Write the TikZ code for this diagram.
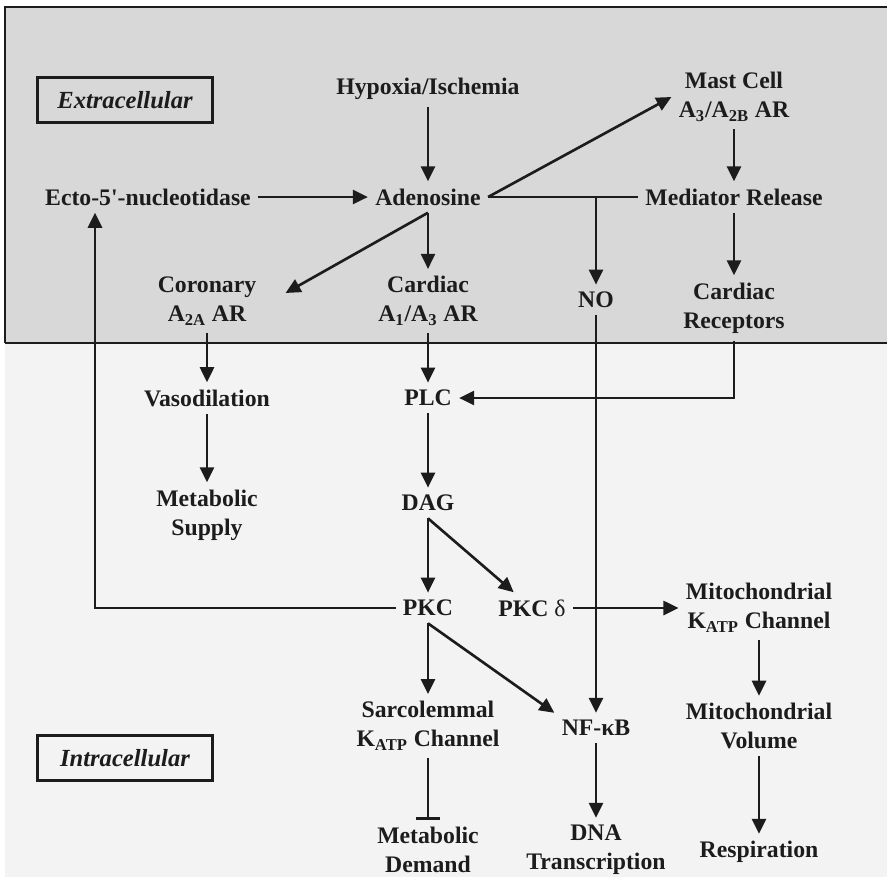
\documentclass[tikz,border=0pt]{standalone}
\usepackage{fontspec}
\setmainfont{Liberation Serif}
\usetikzlibrary{arrows.meta,calc}
\definecolor{BandGray}{HTML}{D8D8D8}
\definecolor{PaperGray}{HTML}{F3F3F3}
\definecolor{InkBlack}{HTML}{1C1C1C}
\newcommand{\lsub}[1]{\textsubscript{#1}}

\begin{document}
\begin{tikzpicture}[x=0.02cm,y=-0.02cm,
  lbl/.style={font=\bfseries\fontsize{13.5}{16.5}\selectfont,align=center,inner sep=4pt,text=InkBlack},
  tag/.style={draw=InkBlack,line width=1.3pt,font=\bfseries\itshape\fontsize{14}{16}\selectfont,minimum width=3.5cm,minimum height=0.9cm,text=InkBlack},
  arr/.style={-{Triangle[length=3mm,width=2.8mm]},line width=1.5pt,draw=InkBlack},
  link/.style={line width=1.5pt,draw=InkBlack},
  block/.style={-{Bar[width=5mm]},line width=1.5pt,draw=InkBlack}]
  \useasboundingbox (0,0) rectangle (887,877);
  % compartments
  \fill[PaperGray] (5,343) rectangle (887,877);
  \fill[BandGray] (5,7) rectangle (887,343);
  \draw[line width=1.2pt,InkBlack] (887,7) -- (5,7) -- (5,343);
  \draw[line width=1.6pt,InkBlack] (5,343) -- (887,343);
  \node[tag] (extra) at (125,100) {Extracellular};
  \node[tag] (intra) at (125,758) {Intracellular};
  % extracellular side
  \node[lbl] (hyp) at (428,89) {Hypoxia/Ischemia};
  \node[lbl] (mast) at (734,97) {Mast Cell\\A\lsub{3}/A\lsub{2B} AR};
  \node[lbl] (ecto) at (148,197) {Ecto-5\textquotesingle-nucleotidase};
  \node[lbl] (aden) at (428,197) {Adenosine};
  \node[lbl] (medi) at (734,197) {Mediator Release};
  \node[lbl] (coron) at (207,301) {Coronary\\A\lsub{2A} AR};
  \node[lbl] (cardar) at (428,301) {Cardiac\\A\lsub{1}/A\lsub{3} AR};
  \node[lbl] (no) at (596,300) {NO};
  \node[lbl] (cardrec) at (734,308) {Cardiac\\Receptors};
  % intracellular side
  \node[lbl] (vaso) at (207,398) {Vasodilation};
  \node[lbl] (metsup) at (207,515) {Metabolic\\Supply};
  \node[lbl] (plc) at (428,398) {PLC};
  \node[lbl] (dag) at (428,503) {DAG};
  \node[lbl] (pkc) at (428,608) {PKC};
  \node[lbl] (pkcd) at (532,608) {PKC {\mdseries δ}};
  \node[lbl] (mitok) at (759,608) {Mitochondrial\\K\lsub{ATP} Channel};
  \node[lbl] (sarc) at (428,726) {Sarcolemmal\\K\lsub{ATP} Channel};
  \node[lbl] (nfkb) at (596,728) {NF-κB};
  \node[lbl] (mitov) at (759,726) {Mitochondrial\\Volume};
  \node[lbl] (metdem) at (428,850) {Metabolic\\Demand};
  \node[lbl] (dna) at (596,850) {DNA\\Transcription};
  \node[lbl] (resp) at (759,852) {Respiration};
  % connectors
  \draw[arr] (hyp) -- (aden);
  \draw[arr] (ecto) -- (aden);
  \draw[arr] (aden.south) -- (cardar);
  \draw[arr] (aden.south) -- ($(coron.east)+(22,-8)$);
  \draw[arr] (aden.east) -- (mast.west);
  \draw[link] (aden.east) -- (medi.west);
  \draw[arr] (aden.east -| no) -- (no);
  \draw[arr] (mast) -- (medi);
  \draw[arr] (medi) -- (cardrec);
  \draw[arr] (cardrec.south) |- (plc);
  \draw[arr] (no) -- (nfkb);
  \draw[arr] (coron) -- (vaso);
  \draw[arr] (vaso) -- (metsup);
  \draw[arr] (cardar) -- (plc);
  \draw[arr] (plc) -- (dag);
  \draw[arr] (dag.south) -- (pkc);
  \draw[arr] (dag.south) -- (pkcd);
  \draw[arr] (pkc.west) -| ($(ecto.south)+(-53,0)$);
  \draw[arr] (pkcd) -- (mitok);
  \draw[arr] (pkc.south) -- (sarc);
  \draw[arr] (pkc.south) -- (nfkb.north west);
  \draw[block] (sarc) -- (metdem);
  \draw[arr] (nfkb) -- (dna);
  \draw[arr] (mitok) -- (mitov);
  \draw[arr] (mitov) -- (resp);
\end{tikzpicture}
\end{document}
